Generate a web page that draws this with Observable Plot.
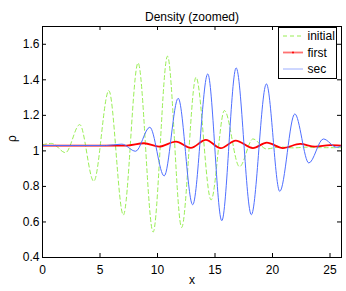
<!DOCTYPE html>
<html>
<head>
<meta charset="utf-8">
<script src="https://cdn.jsdelivr.net/npm/d3@7"></script>
<script src="https://cdn.jsdelivr.net/npm/@observablehq/plot@0.6"></script>
<style>
  html, body { margin: 0; padding: 0; background: #fff; }
  #wrap { position: relative; width: 346px; height: 291px; }
  #wrap svg { position: absolute; left: 0; top: 0; }
</style>
</head>
<body>
<div id="wrap"></div>
<script>
// ---- data ----
const xTicks = [0, 5, 10, 15, 20, 25];
const yTicks = [0.4, 0.6, 0.8, 1, 1.2, 1.4, 1.6];

const initialX = [0, 0.8, 2.0, 3.24, 4.46, 5.77, 7.03, 8.31, 9.62, 10.87, 12.1, 13.35, 14.66, 15.82, 17.13, 18.3, 19.47, 20.6, 21.8, 23, 24.2, 26];
const initialY = [1.035, 1.042, 0.99, 1.148, 0.829, 1.339, 0.639, 1.495, 0.543, 1.533, 0.569, 1.414, 0.724, 1.227, 0.911, 1.067, 1.011, 1.022, 1.017, 1.021, 1.018, 1.018];

const firstX = [0, 7.3, 8.83, 10.14, 11.6, 12.9, 14.2, 15.5, 16.8, 18.3, 19.5, 20.9, 22.4, 23.7, 25.0, 26];
const firstY = [1.03, 1.03, 1.043, 1.024, 1.052, 1.017, 1.062, 1.015, 1.058, 1.016, 1.046, 1.016, 1.039, 1.024, 1.032, 1.03];

const secX = [0, 5.5, 6.9, 8.1, 9.33, 10.58, 11.8, 13.06, 14.37, 15.59, 16.84, 18.16, 19.47, 20.63, 21.94, 23.16, 24.42, 25.59, 26];
const secY = [1.03, 1.03, 1.038, 0.998, 1.133, 0.859, 1.296, 0.697, 1.433, 0.607, 1.467, 0.641, 1.377, 0.772, 1.208, 0.932, 1.067, 1.02, 1.03];

const seriesNames = ["initial", "first", "sec"];
const seriesColors = ["#99ee55", "#ff0000", "#4f6fff"];

// ---- layout ----
const W = 346, H = 291;
const mL = 42, mR = 5, mT = 26, mB = 34;
const innerW = W - mL - mR, innerH = H - mT - mB;
const tickLen = 4;
const font = "Liberation Sans, Arial, Helvetica, sans-serif";

const toRows = (xs, ys) => xs.map((x, i) => ({x, y: ys[i]}));
const initial = toRows(initialX, initialY);
const first = toRows(firstX, firstY);
const sec = toRows(secX, secY);

const chart = Plot.plot({
  width: W, height: H,
  marginLeft: mL, marginRight: mR, marginTop: mT, marginBottom: mB,
  style: {fontFamily: font, fontSize: "12px", background: "transparent", color: "#000"},
  x: {domain: [0, 26]},
  y: {domain: [0.4, 1.7]},
  marks: [
    Plot.line(initial, {x: "x", y: "y", stroke: seriesColors[0], strokeWidth: 1, strokeDasharray: "4,3", curve: "monotone-x", clip: true}),
    Plot.line(first, {x: "x", y: "y", stroke: seriesColors[1], strokeWidth: 1.8, curve: "monotone-x", clip: true}),
    Plot.line(sec, {x: "x", y: "y", stroke: seriesColors[2], strokeWidth: 1, curve: "monotone-x", clip: true}),
    // inward ticks on all four sides
    Plot.tickX(xTicks, {x: d => d, stroke: "#000", insetTop: innerH - tickLen}),
    Plot.tickX(xTicks, {x: d => d, stroke: "#000", insetBottom: innerH - tickLen}),
    Plot.tickY(yTicks, {y: d => d, stroke: "#000", insetRight: innerW - tickLen}),
    Plot.tickY(yTicks, {y: d => d, stroke: "#000", insetLeft: innerW - tickLen}),
    Plot.axisX(xTicks, {tickSize: 0, tickPadding: 8, label: null, fontSize: 12}),
    Plot.axisY(yTicks, {tickSize: 0, tickPadding: 3, label: null, tickFormat: d => String(d), fontSize: 12}),
    Plot.frame({stroke: "#000", strokeWidth: 1}),
    Plot.text(["Density (zoomed)"], {frameAnchor: "top", dy: -14, fontSize: 12, fill: "#000"}),
    Plot.text(["x"], {frameAnchor: "bottom", dy: 26, fontSize: 12, fill: "#000"}),
    Plot.text(["ρ"], {frameAnchor: "left", dx: -30, rotate: -90, fontSize: 12, fill: "#000"})
  ]
});

const wrap = document.getElementById("wrap");
wrap.appendChild(chart);

// ---- legend overlay (matlab-style box) ----
const lg = d3.select(wrap).append("svg")
  .attr("width", W).attr("height", H)
  .style("font-family", font).style("font-size", "12px");
const box = {x: 278.5, y: 27.5, w: 58, h: 51};
lg.append("rect").attr("x", box.x).attr("y", box.y).attr("width", box.w).attr("height", box.h)
  .attr("fill", "#fff").attr("stroke", "#000").attr("stroke-width", 1);
const rowY = [36, 52.5, 69];
const dashes = ["4,3", null, null];
const widths = [1, 1.8, 1];
seriesNames.forEach((name, i) => {
  const ln = lg.append("line").attr("x1", 283).attr("x2", 303).attr("y1", rowY[i]).attr("y2", rowY[i])
    .attr("stroke", seriesColors[i]).attr("stroke-width", widths[i]).attr("opacity", i === 0 ? 1 : 0.55);
  if (dashes[i]) ln.attr("stroke-dasharray", dashes[i]);
  if (i === 1) lg.append("circle").attr("cx", 293).attr("cy", rowY[i]).attr("r", 1).attr("fill", "#ff0000");
  lg.append("text").attr("x", 307.5).attr("y", rowY[i]).attr("dy", "0.35em").attr("fill", "#000").text(name);
});
</script>
</body>
</html>
